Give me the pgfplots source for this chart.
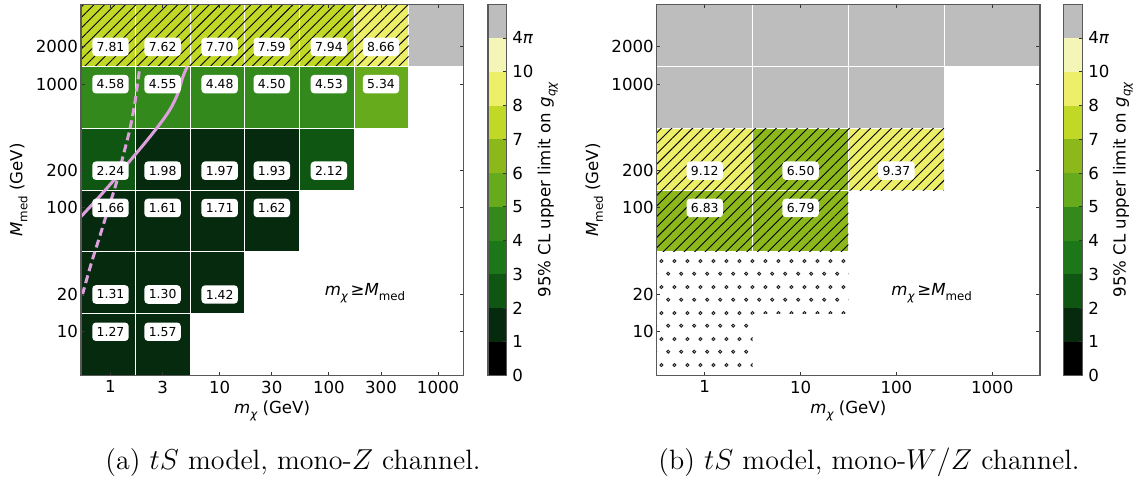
\documentclass[border=0pt]{standalone}
\usepackage{fontspec}
\usepackage{pgfplots}
\pgfplotsset{compat=1.18}
\usetikzlibrary{patterns.meta}
\newfontfamily\dv{DejaVu Sans}
\newcommand\tfont{\dv\fontsize{8.3}{10}\selectfont}
\newcommand\lfont{\dv\fontsize{6.2}{7}\selectfont}
\newcommand\sub[1]{\raisebox{-0.3em}{\fontsize{5.9}{6}\selectfont #1}}

\definecolor{c0}{HTML}{000000}
\definecolor{c1}{HTML}{052A0E}
\definecolor{c2}{HTML}{0E5612}
\definecolor{c3}{HTML}{1C7719}
\definecolor{c4}{HTML}{33891C}
\definecolor{c5}{HTML}{66AB1C}
\definecolor{c6}{HTML}{8CB81C}
\definecolor{c7}{HTML}{C2D826}
\definecolor{c8}{HTML}{EDEF68}
\definecolor{c9}{HTML}{F3F6B6}
\definecolor{cg}{HTML}{BDBDBD}
\definecolor{plum}{HTML}{DDA0DD}

\tikzdeclarepattern{
  name=rings,
  type=uncolored,
  bounding box={(0pt,0pt) and (6.4pt,12.8pt)},
  tile size={(6.4pt,12.8pt)},
  code={
    \pgfsetlinewidth{0.5pt}
    \pgfpathcircle{\pgfpoint{1.6pt}{3.2pt}}{0.75pt}
    \pgfpathcircle{\pgfpoint{4.8pt}{9.6pt}}{0.75pt}
    \pgfusepath{stroke}
  }
}

\newcommand\cell[5]{\addplot[fill=#5, draw=white, line width=0.5pt] coordinates {(#1,#3) (#2,#3) (#2,#4) (#1,#4)} -- cycle;}
\newcommand\hatch[4]{\addplot[draw=none, pattern={Lines[angle=45,distance=3.7pt,line width=0.45pt]}] coordinates {(#1,#3) (#2,#3) (#2,#4) (#1,#4)} -- cycle;}
\newcommand\cbseg[2]{\addplot[fill=#2, draw=none] coordinates {(0,#1) (1,#1) (1,#1+1) (0,#1+1)} -- cycle;}

\begin{document}
\begin{tikzpicture}
\useasboundingbox (0,0) rectangle (574pt,243pt);

% ---------------- left panel ----------------
\begin{axis}[scale only axis, width=191.1pt, height=185.7pt,
    at={(40.5pt,55.15pt)}, anchor=south west,
    xmode=log, ymode=log,
    xmin=0.537, xmax=1698, ymin=4.416, ymax=4416,
    xminorticks=false, yminorticks=false,
    xtick={1,3,10,30,100,300,1000}, xticklabels={1,3,10,30,100,300,1000},
    ytick={10,20,100,200,1000,2000},
    yticklabels={10,20,100,200,1000,2000},
    tick align=inside, major tick length=1.8pt,
    tick style={black!80, line width=0.5pt},
    axis line style={black!65, line width=0.7pt},
    tick label style={font=\tfont},
    xticklabel style={inner sep=1pt, yshift=-1.4pt},
    yticklabel style={inner sep=1.3pt},
    label style={font=\tfont},
    xlabel style={at={(axis description cs:0.5,0)}, anchor=base, yshift=-18.9pt},
    ylabel style={at={(axis description cs:-0.1531,0.5)}, anchor=base},
    xlabel={{\itshape m}\sub{\itshape χ} (GeV)},
    ylabel={{\itshape M}\sub{med} (GeV)},
    axis on top]
% row 2000
\cell{0.537}{1.698}{1396}{4416}{c7}
\cell{1.698}{5.370}{1396}{4416}{c7}
\cell{5.370}{16.98}{1396}{4416}{c7}
\cell{16.98}{53.70}{1396}{4416}{c7}
\cell{53.70}{169.8}{1396}{4416}{c7}
\cell{169.8}{537.0}{1396}{4416}{c8}
\cell{537.0}{1698}{1396}{4416}{cg}
\hatch{0.537}{537.0}{1396}{4416}
% row 1000
\cell{0.537}{1.698}{441.6}{1396}{c4}
\cell{1.698}{5.370}{441.6}{1396}{c4}
\cell{5.370}{16.98}{441.6}{1396}{c4}
\cell{16.98}{53.70}{441.6}{1396}{c4}
\cell{53.70}{169.8}{441.6}{1396}{c4}
\cell{169.8}{537.0}{441.6}{1396}{c5}
% row 200
\cell{0.537}{1.698}{139.6}{441.6}{c2}
\cell{1.698}{5.370}{139.6}{441.6}{c1}
\cell{5.370}{16.98}{139.6}{441.6}{c1}
\cell{16.98}{53.70}{139.6}{441.6}{c1}
\cell{53.70}{169.8}{139.6}{441.6}{c2}
% row 100
\cell{0.537}{1.698}{44.16}{139.6}{c1}
\cell{1.698}{5.370}{44.16}{139.6}{c1}
\cell{5.370}{16.98}{44.16}{139.6}{c1}
\cell{16.98}{53.70}{44.16}{139.6}{c1}
% row 20
\cell{0.537}{1.698}{13.96}{44.16}{c1}
\cell{1.698}{5.370}{13.96}{44.16}{c1}
\cell{5.370}{16.98}{13.96}{44.16}{c1}
% row 10
\cell{0.537}{1.698}{4.416}{13.96}{c1}
\cell{1.698}{5.370}{4.416}{13.96}{c1}
% curves
\addplot[plum, line width=1.5pt, smooth] coordinates {
 (0.537,85.1) (0.768,119.8) (1.017,158.5) (1.446,229.8) (2.056,333) (2.72,454)
 (3.49,619) (4.15,845) (4.61,1151) (5.05,1387)};
\addplot[plum, line width=1.5pt, smooth, dash pattern=on 4pt off 2.2pt] coordinates {
 (0.552,19.8) (0.667,35.7) (0.796,58.6) (0.948,96.4) (1.13,158.5) (1.30,260)
 (1.50,427) (1.67,702) (1.79,1084) (1.86,1387)};
% labels
\addplot[only marks, mark=*, mark size=0pt, mark options={draw=none, fill=none},
    nodes near coords, point meta=explicit symbolic,
    every node near coord/.style={fill=white, rounded corners=1.8pt, inner xsep=2.2pt, inner ysep=2.3pt, font=\lfont, anchor=center, text=black}]
 table[meta=lab] {
x y lab
1 2000 7.81
3 2000 7.62
10 2000 7.70
30 2000 7.59
100 2000 7.94
300 2000 8.66
1 1000 4.58
3 1000 4.55
10 1000 4.48
30 1000 4.50
100 1000 4.53
300 1000 5.34
1 200 2.24
3 200 1.98
10 200 1.97
30 200 1.93
100 200 2.12
1 100 1.66
3 100 1.61
10 100 1.71
30 100 1.62
1 20 1.31
3 20 1.30
10 20 1.42
1 10 1.27
3 10 1.57
};
\node[font=\tfont, anchor=center] at (axis cs:214,20.5) {{\itshape m}\sub{\itshape χ}\,≥{\itshape M}\sub{med}};
\end{axis}

% left colorbar
\begin{axis}[scale only axis, width=9.35pt, height=185.7pt,
    at={(244pt,55.15pt)}, anchor=south west,
    xmin=0, xmax=1, ymin=0, ymax=11,
    xtick=\empty,
    ytick={0,1,2,3,4,5,6,7,8,9,10},
    yticklabels={0,1,2,3,4,5,6,7,8,10,{4{\itshape π}}},
    ytick pos=right, yticklabel pos=right,
    tick align=inside, major tick length=1.8pt,
    tick style={black!80, line width=0.5pt},
    axis line style={black!65, line width=0.7pt},
    tick label style={font=\tfont},
    yticklabel style={inner sep=2.6pt, anchor=west},
    label style={font=\tfont},
    ylabel={95\% CL upper limit on {\itshape g}\sub{\itshape qχ}},
    ylabel style={at={(axis description cs:3.34,0.5)}, anchor=base},
    axis on top]
\cbseg{0}{c0}
\cbseg{1}{c1}
\cbseg{2}{c2}
\cbseg{3}{c3}
\cbseg{4}{c4}
\cbseg{5}{c5}
\cbseg{6}{c6}
\cbseg{7}{c7}
\cbseg{8}{c8}
\cbseg{9}{c9}
\cbseg{10}{cg}
\end{axis}

% ---------------- right panel ----------------
\begin{axis}[scale only axis, width=191.65pt, height=185.7pt,
    at={(328.35pt,55.15pt)}, anchor=south west,
    xmode=log, ymode=log,
    xmin=0.315, xmax=3150, ymin=4.416, ymax=4416,
    xminorticks=false, yminorticks=false,
    xtick={1,10,100,1000}, xticklabels={1,10,100,1000},
    ytick={10,20,100,200,1000,2000},
    yticklabels={10,20,100,200,1000,2000},
    tick align=inside, major tick length=1.8pt,
    tick style={black!80, line width=0.5pt},
    axis line style={black!65, line width=0.7pt},
    tick label style={font=\tfont},
    xticklabel style={inner sep=1pt, yshift=-1.4pt},
    yticklabel style={inner sep=1.3pt},
    label style={font=\tfont},
    xlabel style={at={(axis description cs:0.5,0)}, anchor=base, yshift=-18.9pt},
    ylabel style={at={(axis description cs:-0.1531,0.5)}, anchor=base},
    xlabel={{\itshape m}\sub{\itshape χ} (GeV)},
    ylabel={{\itshape M}\sub{med} (GeV)},
    axis on top]
% row 2000
\cell{0.315}{3.15}{1396}{4416}{cg}
\cell{3.15}{31.5}{1396}{4416}{cg}
\cell{31.5}{315}{1396}{4416}{cg}
\cell{315}{3150}{1396}{4416}{cg}
% row 1000
\cell{0.315}{3.15}{441.6}{1396}{cg}
\cell{3.15}{31.5}{441.6}{1396}{cg}
\cell{31.5}{315}{441.6}{1396}{cg}
% row 200
\cell{0.315}{3.15}{139.6}{441.6}{c8}
\cell{3.15}{31.5}{139.6}{441.6}{c6}
\cell{31.5}{315}{139.6}{441.6}{c8}
\hatch{0.315}{315}{139.6}{441.6}
% row 100
\cell{0.315}{3.15}{44.16}{139.6}{c6}
\cell{3.15}{31.5}{44.16}{139.6}{c6}
\hatch{0.315}{31.5}{44.16}{139.6}
% dotted region
\addplot[draw=none, pattern=rings, pattern color=black!85] coordinates {
 (0.315,4.416) (3.15,4.416) (3.15,13.96) (31.5,13.96) (31.5,44.16) (0.315,44.16)} -- cycle;
\addplot[only marks, mark=*, mark size=0pt, mark options={draw=none, fill=none},
    nodes near coords, point meta=explicit symbolic,
    every node near coord/.style={fill=white, rounded corners=1.8pt, inner xsep=2.2pt, inner ysep=2.3pt, font=\lfont, anchor=center, text=black}]
 table[meta=lab] {
x y lab
1 200 9.12
10 200 6.50
100 200 9.37
1 100 6.83
10 100 6.79
};
\node[font=\tfont, anchor=center] at (axis cs:233,20.5) {{\itshape m}\sub{\itshape χ}\,≥{\itshape M}\sub{med}};
\end{axis}

% right colorbar
\begin{axis}[scale only axis, width=9.7pt, height=185.7pt,
    at={(531.65pt,55.15pt)}, anchor=south west,
    xmin=0, xmax=1, ymin=0, ymax=11,
    xtick=\empty,
    ytick={0,1,2,3,4,5,6,7,8,9,10},
    yticklabels={0,1,2,3,4,5,6,7,8,10,{4{\itshape π}}},
    ytick pos=right, yticklabel pos=right,
    tick align=inside, major tick length=1.8pt,
    tick style={black!80, line width=0.5pt},
    axis line style={black!65, line width=0.7pt},
    tick label style={font=\tfont},
    yticklabel style={inner sep=2.6pt, anchor=west},
    label style={font=\tfont},
    ylabel={95\% CL upper limit on {\itshape g}\sub{\itshape qχ}},
    ylabel style={at={(axis description cs:3.206,0.5)}, anchor=base},
    axis on top]
\cbseg{0}{c0}
\cbseg{1}{c1}
\cbseg{2}{c2}
\cbseg{3}{c3}
\cbseg{4}{c4}
\cbseg{5}{c5}
\cbseg{6}{c6}
\cbseg{7}{c7}
\cbseg{8}{c8}
\cbseg{9}{c9}
\cbseg{10}{cg}
\end{axis}

% captions
\node[font=\fontsize{14}{16}\selectfont, anchor=base] at (146.5pt,8pt) {(a) $tS$ model, mono-$Z$ channel.};
\node[font=\fontsize{14}{16}\selectfont, anchor=base] at (434.5pt,8pt) {(b) $tS$ model, mono-$W/Z$ channel.};
\end{tikzpicture}
\end{document}
